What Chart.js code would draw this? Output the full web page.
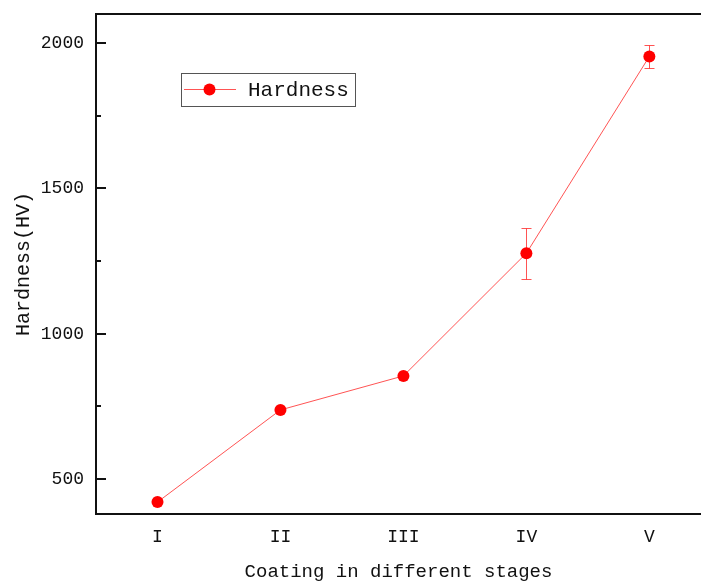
<!DOCTYPE html>
<html>
<head>
<meta charset="utf-8">
<script src="https://cdn.jsdelivr.net/npm/chart.js@4.4.1/dist/chart.umd.min.js"></script>
<style>
  html, body { margin: 0; padding: 0; background: #fff; }
  #wrap { position: relative; width: 701px; height: 581px; }
</style>
</head>
<body>
<div id="wrap"><canvas id="hardnessChart"></canvas></div>
<script>
const stages = ["I", "II", "III", "IV", "V"];
const hardness = [421, 738, 855, 1277, 1954];
const hardnessErr = [0, 0, 0, 87, 41];
const yTicks = [500, 1000, 1500, 2000];
const yMinorTicks = [750, 1250, 1750];

const FONT = "'Liberation Mono', 'Courier New', monospace";
const RED = "#ff0000";
const LINE_RED = "rgba(255,40,40,0.8)";

// barras de erro, desenhadas antes dos pontos
const errorBars = {
  id: "errorBars",
  beforeDatasetsDraw(chart) {
    const { ctx, scales: { x, y } } = chart;
    ctx.save();
    ctx.strokeStyle = LINE_RED;
    ctx.lineWidth = 1;
    hardness.forEach((v, i) => {
      const e = hardnessErr[i];
      if (!e) return;
      const px = Math.round(x.getPixelForValue(i + 1)) + 0.5;
      const top = Math.round(y.getPixelForValue(v + e)) + 0.5;
      const bot = Math.round(y.getPixelForValue(v - e)) + 0.5;
      ctx.beginPath();
      ctx.moveTo(px, top); ctx.lineTo(px, bot);
      ctx.moveTo(px - 5, top); ctx.lineTo(px + 5, top);
      ctx.moveTo(px - 5, bot); ctx.lineTo(px + 5, bot);
      ctx.stroke();
    });
    ctx.restore();
  }
};

// ticks para dentro, borda superior e legenda
const frame = {
  id: "frame",
  afterDraw(chart) {
    const { ctx, chartArea: a, scales: { y } } = chart;
    ctx.save();
    ctx.strokeStyle = "#111";
    ctx.lineWidth = 2;
    ctx.beginPath();
    ctx.moveTo(a.left - 1, a.top);
    ctx.lineTo(a.right, a.top);
    ctx.stroke();
    yTicks.forEach((v) => {
      const py = Math.round(y.getPixelForValue(v));
      ctx.beginPath(); ctx.moveTo(a.left, py); ctx.lineTo(a.left + 10, py); ctx.stroke();
    });
    yMinorTicks.forEach((v) => {
      const py = Math.round(y.getPixelForValue(v));
      ctx.beginPath(); ctx.moveTo(a.left, py); ctx.lineTo(a.left + 5, py); ctx.stroke();
    });

    // legenda
    const lx = 181, ly = 73, lw = 174, lh = 33, cy = ly + lh / 2;
    ctx.lineWidth = 1;
    ctx.strokeStyle = "#555";
    ctx.strokeRect(lx + 0.5, ly + 0.5, lw, lh);
    ctx.strokeStyle = LINE_RED;
    ctx.beginPath(); ctx.moveTo(184, cy); ctx.lineTo(236, cy); ctx.stroke();
    ctx.fillStyle = RED;
    ctx.beginPath(); ctx.arc(209.5, cy, 6, 0, Math.PI * 2); ctx.fill();
    ctx.fillStyle = "#111";
    ctx.font = "21px " + FONT;
    ctx.textBaseline = "middle";
    ctx.textAlign = "left";
    ctx.fillText(chart.data.datasets[0].label, 248, cy + 1);
    ctx.restore();
  }
};

new Chart(document.getElementById("hardnessChart"), {
  type: "line",
  data: {
    datasets: [{
      label: "Hardness",
      data: hardness.map((v, i) => ({ x: i + 1, y: v })),
      borderColor: LINE_RED,
      borderWidth: 1,
      pointRadius: 6,
      pointBackgroundColor: RED,
      pointBorderWidth: 0,
      pointHoverRadius: 6,
      tension: 0,
      clip: false
    }]
  },
  options: {
    responsive: true,
    maintainAspectRatio: false,
    animation: false,
    layout: { autoPadding: false, padding: { top: 14, right: 0, left: 0, bottom: 0 } },
    plugins: {
      legend: { display: false },
      tooltip: { enabled: false }
    },
    scales: {
      x: {
        type: "linear",
        min: 0.5,
        max: 5.42,
        afterBuildTicks: (s) => { s.ticks = stages.map((_, i) => ({ value: i + 1 })); },
        afterFit: (s) => {
          s.height = 67;
          s.paddingLeft = 0; s.paddingRight = 0;
        },
        grid: { display: false, drawTicks: false },
        border: { display: true, color: "#111", width: 2 },
        ticks: {
          padding: 12,
          color: "#111",
          font: { family: FONT, size: 18 },
          callback: (v) => stages[v - 1] || ""
        },
        title: {
          display: true,
          text: "Coating in different stages",
          color: "#111",
          font: { family: FONT, size: 19, lineHeight: 1 },
          padding: { top: 0, bottom: 0 }
        }
      },
      y: {
        min: 380,
        max: 2100,
        afterBuildTicks: (s) => { s.ticks = yTicks.map((v) => ({ value: v })); },
        afterFit: (s) => {
          s.width = 96;
          s.paddingTop = 0; s.paddingBottom = 0;
        },
        grid: { display: false, drawTicks: false },
        border: { display: true, color: "#111", width: 2 },
        ticks: {
          padding: 12,
          color: "#111",
          font: { family: FONT, size: 18 },
          callback: (v) => String(v)
        },
        title: {
          display: true,
          text: "Hardness(HV)",
          color: "#111",
          font: { family: FONT, size: 20, lineHeight: 1.2 },
          padding: { top: 12, bottom: 0 }
        }
      }
    }
  },
  plugins: [errorBars, frame]
});
</script>
</body>
</html>
